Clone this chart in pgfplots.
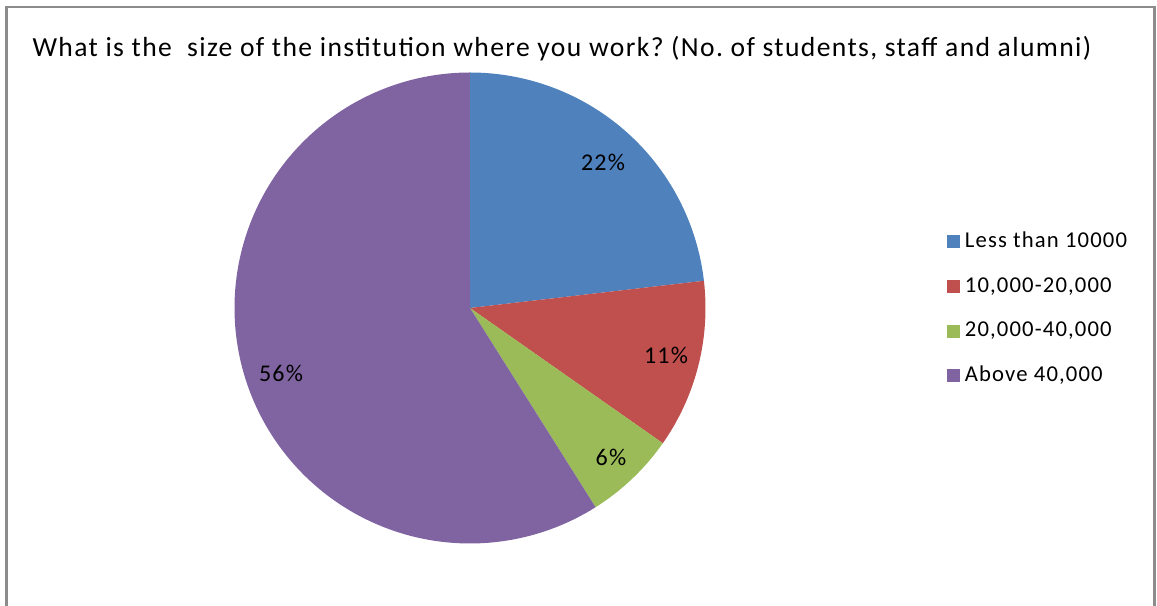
\documentclass[border=0pt]{standalone}
\usepackage{pgfplots}
\pgfplotsset{compat=1.18}
\usepackage{pgfplotstable}
\usepackage{fontspec}
\setmainfont{Carlito}[LetterSpace=5]

\definecolor{cA}{HTML}{4F81BD}
\definecolor{cB}{HTML}{C0504D}
\definecolor{cC}{HTML}{9BBB59}
\definecolor{cD}{HTML}{8064A2}
\definecolor{frameg}{HTML}{8C8C8C}

\pgfplotstableread{
value
22
11
6
56
}\piedata

\pgfplotstablegetelem{0}{value}\of\piedata\let\vA\pgfplotsretval
\pgfplotstablegetelem{1}{value}\of\piedata\let\vB\pgfplotsretval
\pgfplotstablegetelem{2}{value}\of\piedata\let\vC\pgfplotsretval
\pgfplotstablegetelem{3}{value}\of\piedata\let\vD\pgfplotsretval
\pgfmathsetmacro\tot{\vA+\vB+\vC+\vD}
\pgfmathsetmacro\aA{90}
\pgfmathsetmacro\aB{90-\vA/\tot*360}
\pgfmathsetmacro\aC{\aB-\vB/\tot*360}
\pgfmathsetmacro\aD{\aC-\vC/\tot*360}
\pgfmathsetmacro\aE{\aD-\vD/\tot*360}

\begin{document}
\frenchspacing
\begin{tikzpicture}
\begin{axis}[
  anchor=origin, at={(0,0)},
  x=0.75pt, y=0.75pt,
  xmin=0, xmax=1157, ymin=0, ymax=606,
  hide axis, clip=false,
  legend image code/.code={\fill[#1] (0pt,-4.875pt) rectangle (9.75pt,4.875pt);},
  legend cell align=left,
  legend style={draw=none, fill=none, at={(axis cs:947,374)}, anchor=north west,
    inner sep=0pt, row sep=19pt, column sep=3.5pt, font=\fontsize{17}{20}\selectfont,
    nodes={inner sep=0pt, text height=11.5pt, text depth=3pt, outer xsep=0.5pt}},
]
\addplot[fill=cA, draw=none, domain=\aB:\aA, samples=120, variable=\t]
  ({470+235.5*cos(\t)},{298+235.5*sin(\t)}) -- (axis cs:470,298) -- cycle;
\addlegendentry{Less than 10000}
\addplot[fill=cB, draw=none, domain=\aC:\aB, samples=80, variable=\t]
  ({470+235.5*cos(\t)},{298+235.5*sin(\t)}) -- (axis cs:470,298) -- cycle;
\addlegendentry{10,000-20,000}
\addplot[fill=cC, draw=none, domain=\aD:\aC, samples=60, variable=\t]
  ({470+235.5*cos(\t)},{298+235.5*sin(\t)}) -- (axis cs:470,298) -- cycle;
\addlegendentry{20,000-40,000}
\addplot[fill=cD, draw=none, domain=\aE:\aD, samples=240, variable=\t]
  ({470+235.5*cos(\t)},{298+235.5*sin(\t)}) -- (axis cs:470,298) -- cycle;
\addlegendentry{Above 40,000}

\node[font=\fontsize{18}{22}\selectfont] at (axis cs:603,444) {22\%};
\node[font=\fontsize{18}{22}\selectfont] at (axis cs:666,251) {11\%};
\node[font=\fontsize{18}{22}\selectfont] at (axis cs:611,149) {6\%};
\node[font=\fontsize{18}{22}\selectfont] at (axis cs:281,233) {56\%};

\node[font=\fontsize{20.7}{24}\selectfont, anchor=base] at (axis cs:562,549)
  {What is the\ \ size of the institution where you work? (No.\ of students, staff and alumni)};

\draw[frameg, line width=1.8pt] (axis cs:6.5,-10) |- (axis cs:1154.5,599) -- (axis cs:1154.5,-10);
\end{axis}
\pgfresetboundingbox
\path[use as bounding box] (0,0) rectangle (867.75pt,454.5pt);
\end{tikzpicture}
\end{document}
